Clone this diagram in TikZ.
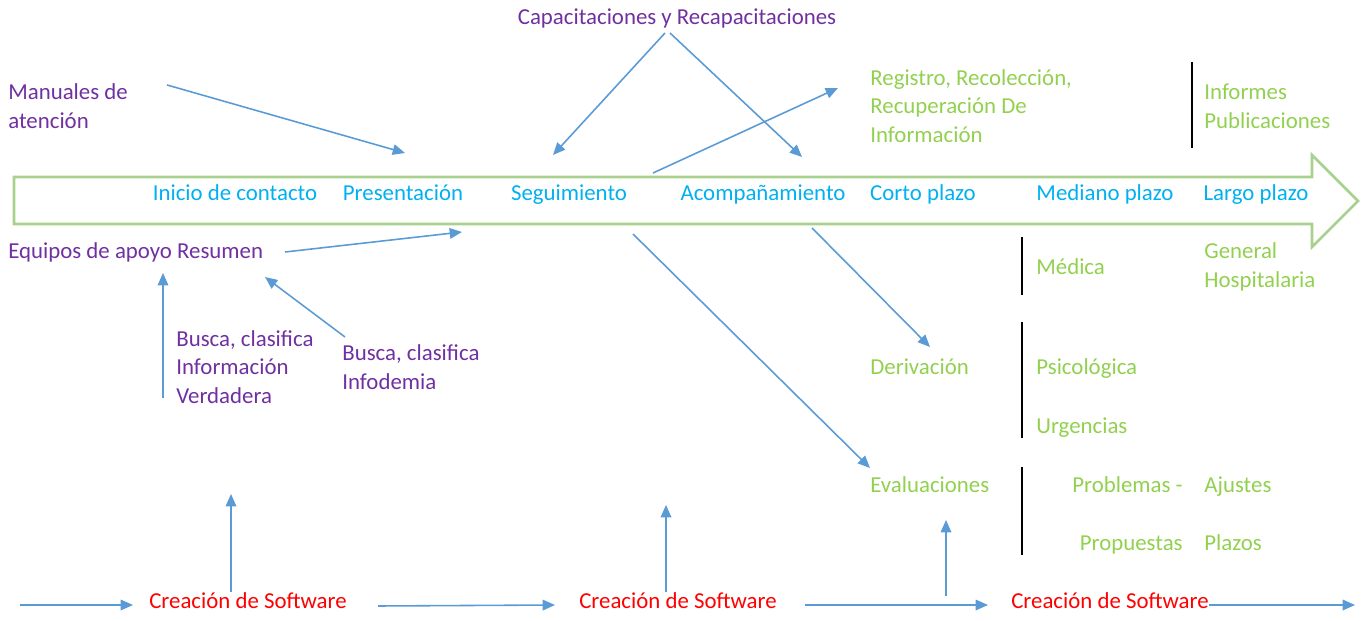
\documentclass[tikz,border=0pt]{standalone}
\usepackage{fontspec}
\setmainfont{Carlito}
\usetikzlibrary{arrows.meta}
\definecolor{morado}{HTML}{7030A0}
\definecolor{celeste}{HTML}{00B0F0}
\definecolor{verde}{HTML}{92D050}
\definecolor{flecha}{HTML}{5B9BD5}
\definecolor{borde}{HTML}{A9D18E}
\tikzset{
  txt/.style={inner sep=0pt, align=left, font=\fontsize{13}{16.4}\selectfont},
  lila/.style={txt, text=morado, anchor=west},
  azul/.style={txt, text=celeste, anchor=base},
  verd/.style={txt, text=verde, anchor=west},
  rojo/.style={txt, text=red, anchor=base},
  flch/.style={draw=flecha, line width=0.9pt, -{Triangle[length=7pt,width=6pt]}},
  barra/.style={draw=black, line width=1pt}
}

\begin{document}
\begin{tikzpicture}[x=0.02cm,y=-0.02cm]
\useasboundingbox (0,0) rectangle (1362,621);
\draw[borde, line width=1.5pt] (14,177) -- (1312,177) -- (1312,155) -- (1358,201) -- (1312,247) -- (1312,224) -- (14,224) -- cycle;

\node[azul] (inicio) at (235,201) {Inicio de contacto};
\node[azul] (present) at (403,201) {Presentación};
\node[azul] (seguim) at (569,201) {Seguimiento};
\node[azul] (acomp) at (763,201) {Acompañamiento};
\node[azul] (corto) at (923,201) {Corto plazo};
\node[azul] (mediano) at (1105,201) {Mediano plazo};
\node[azul] (largo) at (1256,201) {Largo plazo};

\node[txt, text=morado, anchor=base] (capac) at (677,25) {Capacitaciones y Recapacitaciones};
\node[lila] (manual) at (8,106) {Manuales de\\atención};
\node[lila, anchor=base west] (equipos) at (8,259) {Equipos de apoyo Resumen};
\node[lila] (verdad) at (176,367) {Busca, clasifica\\Información\\Verdadera};
\node[lila] (infod) at (342,367) {Busca, clasifica\\Infodemia};

\node[verd] (registro) at (870,106) {Registro, Recolección,\\Recuperación De\\Información};
\node[verd] (informes) at (1204,106) {Informes\\Publicaciones};
\node[verd, anchor=base west] (medica) at (1036,275) {Médica};
\node[verd] (general) at (1204,267) {General\\Hospitalaria};
\node[verd, anchor=base west] (deriv) at (870,375) {Derivación};
\node[verd, anchor=base west] (psico) at (1036,375) {Psicológica};
\node[verd, anchor=base west] (urgen) at (1036,433) {Urgencias};
\node[verd, anchor=base west] (evalua) at (870,492) {Evaluaciones};
\node[txt, text=verde, anchor=base east] (problem) at (1183,492) {Problemas -};
\node[verd, anchor=base west] (ajustes) at (1204,492) {Ajustes};
\node[txt, text=verde, anchor=base east] (propu) at (1183,550) {Propuestas};
\node[verd, anchor=base west] (plazos) at (1204,550) {Plazos};

\node[rojo] (soft1) at (248,608) {Creación de Software};
\node[rojo] (soft2) at (678,608) {Creación de Software};
\node[rojo] (soft3) at (1110,608) {Creación de Software};

\draw[barra] (1192,62) -- (1192,148);
\draw[barra] (1022,237) -- (1022,295);
\draw[barra] (1022,322) -- (1022,438);
\draw[barra] (1022,467) -- (1022,555);

\coordinate (manualA) at (167,85);
\coordinate (manualB) at (405,153);
\coordinate (capacA) at (665,33);
\coordinate (capacB) at (670,33);
\coordinate (segA) at (553,155);
\coordinate (acompA) at (802,157);
\coordinate (regA) at (653,173);
\coordinate (regB) at (838,88);
\coordinate (equipA) at (285,252);
\coordinate (equipB) at (462,232);
\coordinate (verdA) at (163,398);
\coordinate (verdB) at (163,273);
\coordinate (infoA) at (345,337);
\coordinate (infoB) at (265,277);
\coordinate (derivA) at (812,228);
\coordinate (derivB) at (930,347);
\coordinate (evalA) at (633,234);
\coordinate (evalB) at (870,468);
\coordinate (inicioS) at (20,605);
\coordinate (s1A) at (133,605);
\coordinate (s1B) at (378,606);
\coordinate (s2A) at (555,605);
\coordinate (s2B) at (805,605);
\coordinate (s3A) at (988,605);
\coordinate (finS) at (1355,605);
\coordinate (up1) at (231,494);
\coordinate (up2) at (666,505);
\coordinate (up3) at (946,520);
\coordinate (up3A) at (946,596);

\draw[flch] (manualA) -- (manualB);
\draw[flch] (capacA) -- (segA);
\draw[flch] (capacB) -- (acompA);
\draw[flch] (regA) -- (regB);
\draw[flch] (equipA) -- (equipB);
\draw[flch] (verdA) -- (verdB);
\draw[flch] (infoA) -- (infoB);
\draw[flch] (derivA) -- (derivB);
\draw[flch] (evalA) -- (evalB);
\draw[flch] (inicioS) -- (s1A);
\draw[flch] (s1B) -- (s2A);
\draw[flch] (s2B) -- (s3A);
\draw[flch] (soft3.east |- finS) -- (finS);
\draw[flch] (soft1.north -| up1) -- (up1);
\draw[flch] (soft2.north -| up2) -- (up2);
\draw[flch] (up3A) -- (up3);
\end{tikzpicture}
\end{document}
